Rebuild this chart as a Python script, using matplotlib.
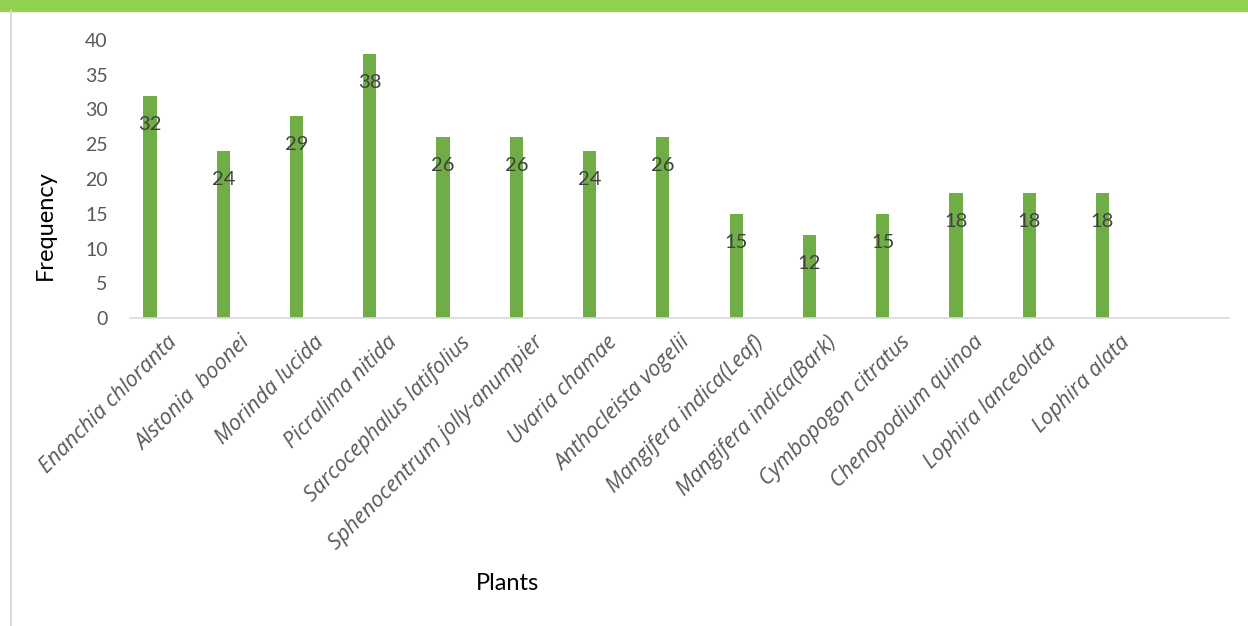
import matplotlib
matplotlib.use('Agg')
import matplotlib.pyplot as plt
import numpy as np
from matplotlib.patches import Rectangle
from matplotlib.lines import Line2D

plants = ['Enanchia chloranta', 'Alstonia  boonei', 'Morinda lucida', 'Picralima nitida',
          'Sarcocephalus latifolius', 'Sphenocentrum jolly-anumpier', 'Uvaria chamae',
          'Anthocleista vogelii', 'Mangifera indica(Leaf)', 'Mangifera indica(Bark)',
          'Cymbopogon citratus', 'Chenopodium quinoa', 'Lophira lanceolata', 'Lophira alata']
frequency = [32, 24, 29, 38, 26, 26, 24, 26, 15, 12, 15, 18, 18, 18]
y_ticks = [0, 5, 10, 15, 20, 25, 30, 35, 40]

plt.rcParams['font.family'] = ['Lato', 'DejaVu Sans']

W, H = 1248, 626
fig = plt.figure(figsize=(W / 100, H / 100), dpi=100)

# frame decoration
fig.patches.append(Rectangle((0, 1 - 11 / H), 1, 11 / H, transform=fig.transFigure,
                             color='#92D050', zorder=0))
fig.lines.append(Line2D([10.5 / W, 10.5 / W], [0, 1 - 11 / H], transform=fig.transFigure,
                        color='#D9D9D9', lw=1.5))

ax = fig.add_axes([130 / W, 1 - 318 / H, (1229 - 130) / W, (318 - 40) / H])

n_slots = len(plants) + 1  # one empty slot on the right
x = np.arange(len(plants))
bars = ax.bar(x - 0.227, frequency, width=0.18, color='#70AD47', zorder=2)

for xi, v in zip(x, frequency):
    ax.annotate(str(v), (xi - 0.227, v), xytext=(0, -20.5), textcoords='offset points',
                ha='center', va='center', fontsize=14.5, color='#404040')

ax.set_xlim(-0.5, n_slots - 0.5)
ax.set_ylim(0, 40)
ax.set_yticks(y_ticks)
ax.tick_params(axis='y', length=0, pad=16, labelsize=14, labelcolor='#595959')
ax.set_xticks(x)
ax.set_xticklabels(plants, rotation=45, ha='right', va='top', rotation_mode='anchor',
                   fontsize=15.5, style='italic', color='#595959',
                   family=['Open Sans', 'DejaVu Sans'])
ax.tick_params(axis='x', length=0, pad=10)

for s in ['top', 'right', 'left']:
    ax.spines[s].set_visible(False)
ax.spines['bottom'].set_color('#D9D9D9')
ax.spines['bottom'].set_linewidth(1.2)

fig.text(45 / W, 1 - 225 / H, 'Frequency', rotation=90, ha='center', va='center',
         fontsize=17, color='#000000')
fig.text(508 / W, 1 - 583 / H, 'Plants', ha='center', va='center',
         fontsize=17, color='#000000')

fig.savefig('out.png', dpi=100)
